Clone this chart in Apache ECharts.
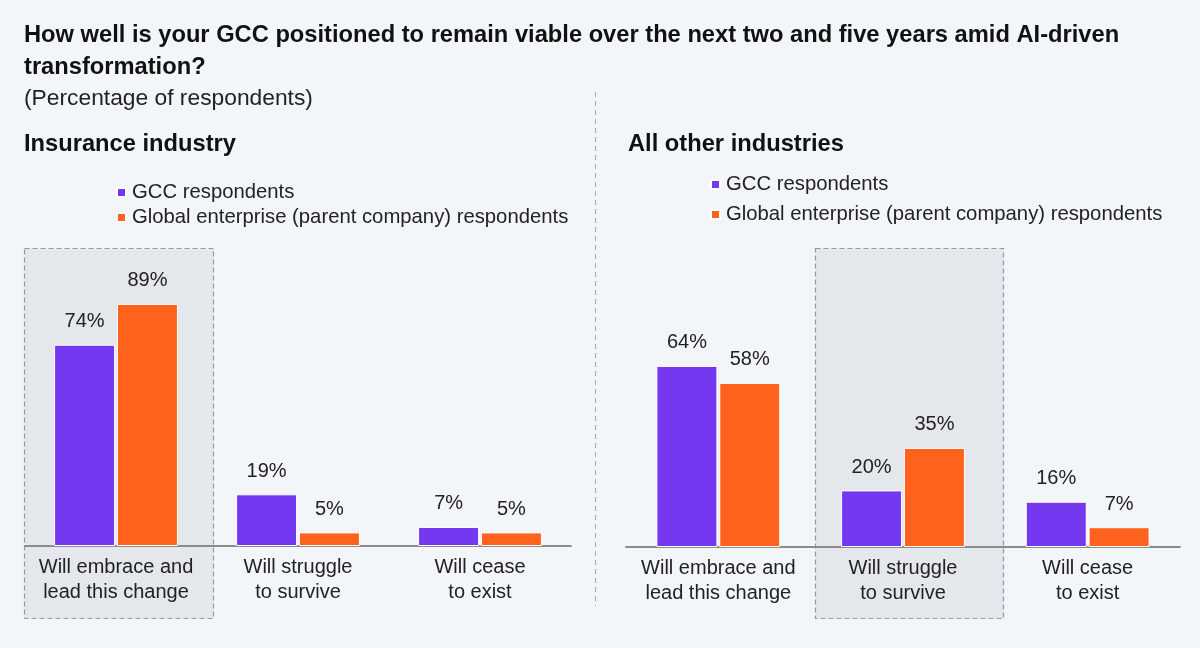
<!DOCTYPE html>
<html>
<head>
<meta charset="utf-8">
<script src="https://cdn.jsdelivr.net/npm/echarts@6/dist/echarts.min.js"></script>
<style>
html,body{margin:0;padding:0;background:#f3f6f9;}
#c{width:1200px;height:648px;}
</style>
</head>
<body>
<div id="c"></div>
<script>
const categories = ['Will embrace and\nlead this change', 'Will struggle\nto survive', 'Will cease\nto exist'];
const seriesNames = ['GCC respondents', 'Global enterprise (parent company) respondents'];
const insuranceGCC = [74, 19, 7];
const insuranceGlobal = [89, 5, 5];
const otherGCC = [64, 20, 16];
const otherGlobal = [58, 35, 7];

const PURPLE = '#7338f0';
const ORANGE = '#ff621c';
const FONT = 'Liberation Sans, Arial, sans-serif';

const chart = echarts.init(document.getElementById('c'));

function barSeries(name, data, color, idx) {
  return {
    name: name,
    type: 'bar',
    xAxisIndex: idx, yAxisIndex: idx,
    data: data,
    barWidth: 61,
    barGap: '3%',
    z: 3,
    itemStyle: { color: color, borderColor: '#ffffff', borderWidth: 1 },
    label: {
      show: true, position: 'top', distance: 13,
      formatter: '{c}%', color: '#222', fontSize: 20, fontFamily: FONT
    }
  };
}

const xAxisBase = {
  type: 'category',
  data: categories,
  axisTick: { show: false },
  axisLine: { lineStyle: { color: '#8c8c8c', width: 2 } },
  axisLabel: { color: '#222', fontSize: 20, lineHeight: 25, margin: 9, fontFamily: FONT, interval: 0 }
};
const yAxisBase = { type: 'value', min: 0, max: 100, show: false, splitLine: { show: false } };

chart.setOption({
  backgroundColor: '#f3f6f9',
  animation: false,
  textStyle: { fontFamily: FONT },
  title: [
    { text: 'How well is your GCC positioned to remain viable over the next two and five years amid AI-driven\ntransformation?',
      left: 24, top: 19, padding: 0, textStyle: { fontSize: 23.7, fontWeight: 'bold', color: '#111', lineHeight: 32, fontFamily: FONT } },
    { text: '(Percentage of respondents)', left: 24, top: 87, padding: 0,
      textStyle: { fontSize: 22.8, fontWeight: 'normal', color: '#222', fontFamily: FONT } },
    { text: 'Insurance industry', left: 24, top: 132, padding: 0,
      textStyle: { fontSize: 23.7, fontWeight: 'bold', color: '#111', fontFamily: FONT } },
    { text: 'All other industries', left: 628, top: 132, padding: 0,
      textStyle: { fontSize: 23.7, fontWeight: 'bold', color: '#111', fontFamily: FONT } }
  ],
  legend: [
    { orient: 'vertical', left: 116, top: 182, padding: 0, itemWidth: 9, itemHeight: 9, itemGap: 4,
      icon: 'rect', data: seriesNames, selectedMode: false,
      textStyle: { fontSize: 20.3, color: '#222', lineHeight: 21, fontFamily: FONT, padding: [0,0,0,1] } },
    { orient: 'vertical', left: 710, top: 174, padding: 0, itemWidth: 9, itemHeight: 9, itemGap: 9,
      icon: 'rect', data: seriesNames, selectedMode: false,
      textStyle: { fontSize: 20.3, color: '#222', lineHeight: 21, fontFamily: FONT, padding: [0,0,0,1] } }
  ],
  grid: [
    { left: 25, width: 546, top: 274, height: 272 },
    { left: 626, width: 554, top: 264, height: 283 }
  ],
  xAxis: [
    Object.assign({}, xAxisBase, { gridIndex: 0 }),
    Object.assign({}, xAxisBase, { gridIndex: 1 })
  ],
  yAxis: [
    Object.assign({}, yAxisBase, { gridIndex: 0 }),
    Object.assign({}, yAxisBase, { gridIndex: 1 })
  ],
  graphic: [
    { type: 'rect', z: 0, shape: { x: 24.5, y: 248.5, width: 189, height: 370 },
      style: { fill: '#e4e7ec', stroke: '#8a9ab0', lineWidth: 1.2, lineDash: [5, 3] } },
    { type: 'rect', z: 0, shape: { x: 815.5, y: 248.5, width: 188, height: 370 },
      style: { fill: '#e4e7ec', stroke: '#8a9ab0', lineWidth: 1.2, lineDash: [5, 3] } },
    { type: 'line', z: 0, shape: { x1: 595.5, y1: 92, x2: 595.5, y2: 606 },
      style: { stroke: '#9aa8bc', lineWidth: 1, lineDash: [5, 4] } }
  ],
  series: [
    barSeries(seriesNames[0], insuranceGCC, PURPLE, 0),
    barSeries(seriesNames[1], insuranceGlobal, ORANGE, 0),
    barSeries(seriesNames[0], otherGCC, PURPLE, 1),
    barSeries(seriesNames[1], otherGlobal, ORANGE, 1)
  ]
});
</script>
</body>
</html>
